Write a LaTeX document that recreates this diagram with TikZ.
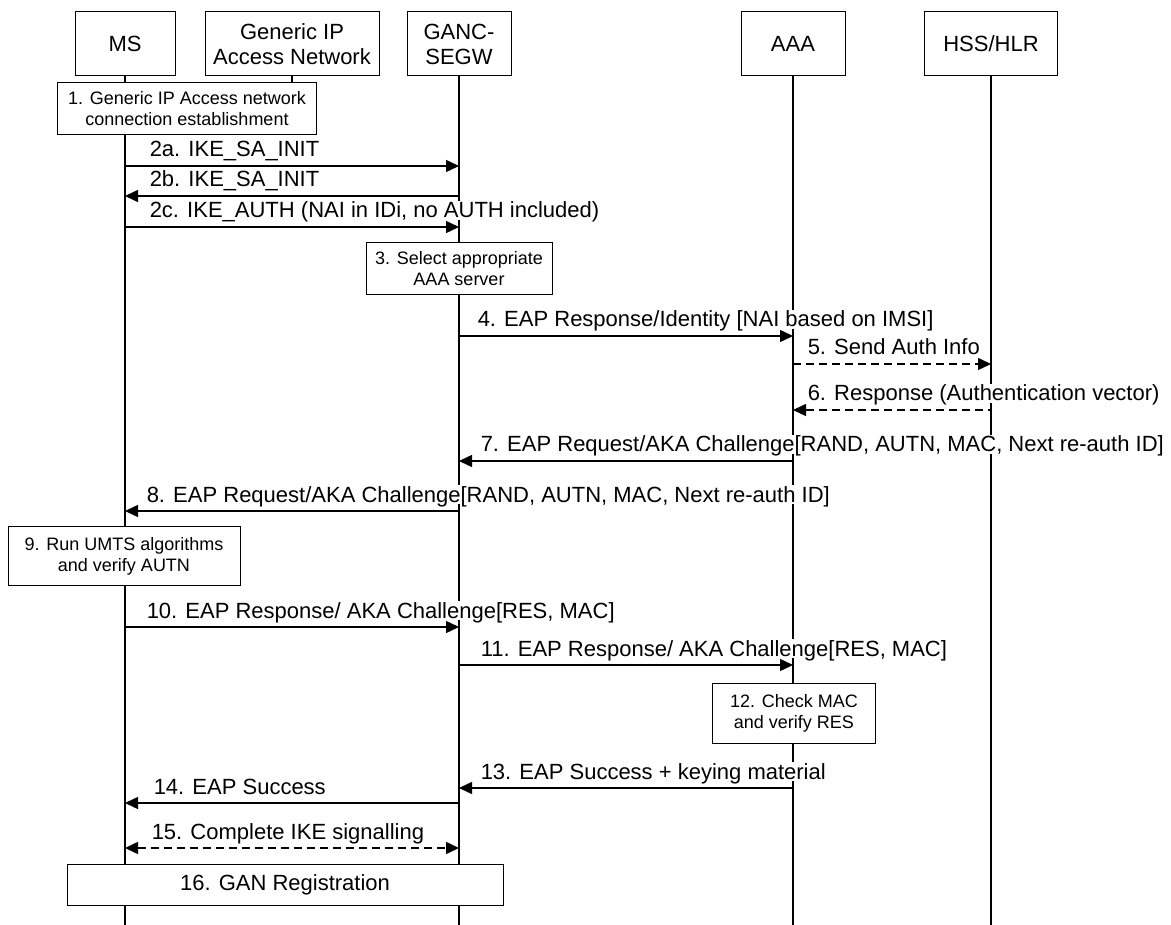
\documentclass[tikz,border=0pt]{standalone}
\usepackage{fontspec}
\setmainfont{Liberation Sans}
\usetikzlibrary{arrows.meta,backgrounds}

\begin{document}
\begin{tikzpicture}[
    x=1pt, y=-1pt,
    font=\fontsize{22}{25}\selectfont,
    actor/.style={
        rectangle,
        draw=black,
        fill=white,
        line width=1pt,
        align=center,
        minimum height=64pt,
        inner sep=2pt
    },
    note/.style={
        rectangle,
        draw=black,
        fill=white,
        line width=1pt,
        align=center,
        inner sep=2pt,
        font=\fontsize{18}{21}\selectfont
    },
    life/.style={line width=1.8pt},
    arrow/.style={-{Triangle[length=13pt,width=12pt]}, line width=1.5pt},
    revarrow/.style={{Triangle[length=13pt,width=12pt]}-, line width=1.5pt},
    dblarrow/.style={{Triangle[length=13pt,width=12pt]}-{Triangle[length=13pt,width=12pt]}, line width=1.5pt},
    dashline/.style={dash pattern=on 8pt off 5pt},
    lbl/.style={
        at start,
        anchor=base west,
        xshift=20pt,
        yshift=9pt,
        fill=white,
        inner sep=1pt,
        text height=16pt,
        text depth=1pt
    }
]
\useasboundingbox (0,0) rectangle (1171,925);

% entities
\node[actor, minimum width=100pt] (ms) at (125,44) {MS};
\node[actor, minimum width=174pt] (gen) at (292,44) {Generic IP\\Access Network};
\node[actor, minimum width=104pt] (ganc) at (459,44) {GANC-\\SEGW};
\node[actor, minimum width=104pt] (aaa) at (793,44) {AAA};
\node[actor, minimum width=133pt] (hss) at (991,44) {HSS/HLR};

% local steps
\node[note, minimum width=259pt, minimum height=52pt] (step1) at (187,109) {1. Generic IP Access network\\connection establishment};
\node[note, minimum width=186pt, minimum height=52pt] (step3) at (459,269) {3. Select appropriate\\AAA server};
\node[note, minimum width=232pt, minimum height=59pt] (step9) at (124,556) {9. Run UMTS algorithms\\and verify AUTN};
\node[note, minimum width=163pt, minimum height=60pt] (step12) at (794,713) {12. Check MAC\\and verify RES};
\node[note, minimum width=436pt, minimum height=41pt, font=\fontsize{22}{25}\selectfont] (step16) at (285,885) {16. GAN Registration};

% lifelines
\begin{scope}[on background layer]
\draw[life] (ms.south) -- (ms |- 0,925);
\draw[life] (gen.south) -- (gen |- step1.north);
\draw[life] (ganc.south) -- (ganc |- 0,925);
\draw[life] (aaa.south) -- (aaa |- 0,925);
\draw[life] (hss.south) -- (hss |- 0,925);
\end{scope}

% messages
\draw[arrow] (ms |- 0,166) -- node[lbl, xshift=3pt] {2a. IKE\_SA\_INIT} (ganc |- 0,166);
\draw[revarrow] (ms |- 0,196) -- node[lbl, xshift=3pt] {2b. IKE\_SA\_INIT} (ganc |- 0,196);
\draw[arrow] (ms |- 0,227) -- node[lbl, xshift=3pt] {2c. IKE\_AUTH (NAI in IDi, no AUTH included)} (ganc |- 0,227);
\draw[arrow] (ganc |- 0,336) -- node[lbl, xshift=-3pt] {4. EAP Response/Identity [NAI based on IMSI]} (aaa |- 0,336);
\draw[arrow, dashline] (aaa |- 0,364) -- node[lbl, xshift=-7pt] {5. Send Auth Info} (hss |- 0,364);
\draw[revarrow, dashline] (aaa |- 0,410) -- node[lbl, xshift=-7pt] {6. Response (Authentication vector)} (hss |- 0,410);
\draw[revarrow] (ganc |- 0,461) -- node[lbl] {7. EAP Request/AKA Challenge[RAND, AUTN, MAC, Next re-auth ID]} (aaa |- 0,461);
\draw[revarrow] (ms |- 0,511) -- node[lbl] {8. EAP Request/AKA Challenge[RAND, AUTN, MAC, Next re-auth ID]} (ganc |- 0,511);
\draw[arrow] (ms |- 0,627) -- node[lbl] {10. EAP Response/ AKA Challenge[RES, MAC]} (ganc |- 0,627);
\draw[arrow] (ganc |- 0,665) -- node[lbl] {11. EAP Response/ AKA Challenge[RES, MAC]} (aaa |- 0,665);
\draw[revarrow] (ganc |- 0,788) -- node[lbl] {13. EAP Success + keying material} (aaa |- 0,788);
\draw[revarrow] (ms |- 0,803) -- node[lbl, xshift=7pt] {14. EAP Success} (ganc |- 0,803);
\draw[dblarrow, dashline] (ms |- 0,848) -- node[lbl, xshift=5pt] {15. Complete IKE signalling} (ganc |- 0,848);

\end{tikzpicture}
\end{document}
